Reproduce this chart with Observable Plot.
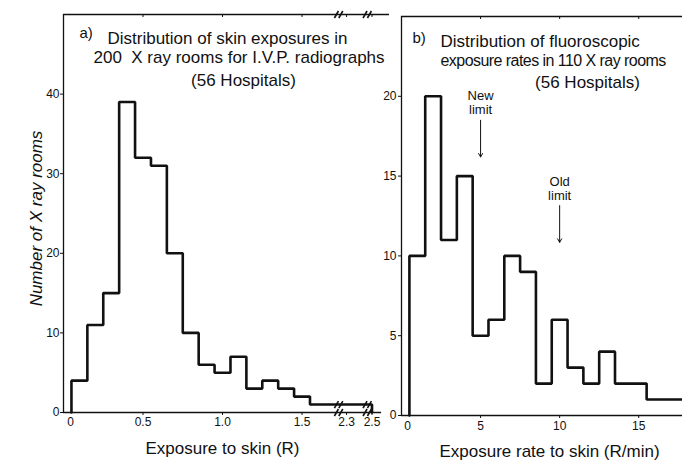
<!DOCTYPE html>
<html><head><meta charset="utf-8">
<script src="https://cdn.jsdelivr.net/npm/d3@7"></script>
<script src="https://cdn.jsdelivr.net/npm/@observablehq/plot@0.6"></script>
<style>
html,body{margin:0;padding:0;background:#fff;overflow:hidden;}
#wrap{position:relative;width:682px;height:460px;overflow:hidden;background:#fff;}
#wrap svg{position:absolute;top:0;}
</style></head><body><div id="wrap"></div>
<script>
const FONT = "'Liberation Sans', Arial, sans-serif";

// ---------- Panel a: skin exposures for I.V.P. radiographs ----------
const aTitle = ["Distribution of skin exposures in", "200  X ray rooms for I.V.P. radiographs", "(56 Hospitals)"];
const aBinCenters = [0.1,0.2,0.3,0.4,0.5,0.6,0.7,0.8,0.9,1.0,1.1,1.2,1.3,1.4,1.5];
const aCounts     = [4, 11, 15, 39, 32, 31, 20, 10, 6, 5, 7, 3, 4, 3, 2];
const aBinWidth = 0.1;
const aTailCount = 1;      // long tail drawn at one room up to 2.5 R
const aTailEnd = 2.5;
const aXTicks = [0, 0.5, 1.0, 1.5, 2.3, 2.5];
const aXTickLabels = ["0", "0.5", "1.0", "1.5", "2.3", "2.5"];
const aYTicks = [0, 10, 20, 30, 40];
// broken x axis: visible pieces of the real axis and their shift
const aSegments = [{lo: 0, hi: 1.72, shift: 0}, {lo: 2.26, hi: 2.42, shift: -0.52}, {lo: 2.48, hi: 2.6, shift: -0.56}];

// ---------- Panel b: fluoroscopic exposure rates ----------
const bTitle = ["Distribution of fluoroscopic", "exposure rates in 110 X ray rooms", "(56 Hospitals)"];
const bBinCenters = [1,2,3,4,5,6,7,8,9,10,11,12,13,14,15,16,17,18];
const bCounts     = [10,20,11,15,5,6,10,9,2,6,3,2,4,2,2,1,1,1];
const bBinWidth = 1;
const bXTicks = [0, 5, 10, 15];
const bYTicks = [0, 5, 10, 15, 20];
const bLimits = [
  {label: "New\nlimit", x: 5, textY: 18.9, from: 18.5, to: 16.2},
  {label: "Old\nlimit", x: 10, textY: 13.5, from: 13.15, to: 10.85}
];

// ---------- helpers ----------
function aDisp(r) {
  for (let i = 0; i < aSegments.length; i++) {
    const s = aSegments[i];
    if (r <= s.hi) return Math.max(r, s.lo) + s.shift;
  }
  const s = aSegments[aSegments.length - 1];
  return r + s.shift;
}
function outline(centers, counts, w) {
  const pts = [{x: centers[0] - w / 2, y: 0}];
  centers.forEach((c, i) => {
    pts.push({x: c - w / 2, y: counts[i]}, {x: c + w / 2, y: counts[i]});
  });
  return pts;
}

const aLine = outline(aBinCenters, aCounts, aBinWidth);
const aLast = aBinCenters[aBinCenters.length - 1] + aBinWidth / 2;
aLine.push({x: aLast, y: aTailCount}, {x: aTailEnd, y: aTailCount}, {x: aTailEnd, y: 0});
aLine.forEach(p => p.x = aDisp(p.x));

const aBreaks = aSegments.slice(1).map((s, i) => (aSegments[i].hi + aSegments[i].shift + s.lo + s.shift) / 2);
const aTickDisp = aXTicks.map(aDisp);
const aLabelMap = new Map(aTickDisp.map((d, i) => [d, aXTickLabels[i]]));

const bLine = outline(bBinCenters, bCounts, bBinWidth);
bLine.push({x: bBinCenters[bBinCenters.length - 1] + bBinWidth / 2, y: 0});

const ink = "#111";
const wrap = document.getElementById("wrap");

// ---------- left plot ----------
const aW = 400, aH = 460, aML = 63, aMR = 11, aMT = 14, aMB = 48;
const aXMax = 2.05, aYMax = 50;
const pxX = aXMax / (aW - aML - aMR), pxY = aYMax / (aH - aMT - aMB);
// "//" break symbols as short slanted strokes, on the axis, the histogram tail and the top frame
const aBreakStrokes = aBreaks.flatMap(b => [0, aTailCount, aYMax].flatMap(level =>
  [-2.2, 2.2].map(off => ({
    x1: b + (off - 2) * pxX, y1: level - 3.5 * pxY,
    x2: b + (off + 2) * pxX, y2: level + 3.5 * pxY
  }))));

const aPlot = Plot.plot({
  width: aW, height: aH,
  marginLeft: aML, marginRight: aMR, marginTop: aMT, marginBottom: aMB,
  x: {domain: [0, aXMax], axis: null},
  y: {domain: [0, aYMax], axis: null},
  style: {fontFamily: FONT, background: "transparent", overflow: "visible", color: ink},
  marks: [
    Plot.ruleX([0], {stroke: ink, strokeWidth: 1.3}),
    Plot.ruleY([0], {x1: () => 0, x2: () => aDisp(2.56), stroke: ink, strokeWidth: 1.3}),
    Plot.ruleY([aYMax], {stroke: ink, strokeWidth: 1.3}),
    Plot.ruleX(aTickDisp.slice(1), {x: d => d, insetBottom: aH - aMT - aMB - 3, stroke: ink}),
    Plot.axisY({ticks: aYTicks, label: null, tickSize: 3, tickPadding: 1, fontSize: 12, stroke: ink, fill: ink}),
    Plot.axisX({ticks: aTickDisp.slice(1), label: null, tickFormat: d => aLabelMap.get(d), tickSize: 3, tickPadding: 2, fontSize: 12, stroke: ink, fill: ink}),
    Plot.axisX({ticks: aTickDisp.slice(0, 1), label: null, tickFormat: d => aLabelMap.get(d), tickSize: 0, tickPadding: 5, dx: 7, fontSize: 12, fill: ink}),
    Plot.line(aLine, {x: "x", y: "y", stroke: ink, strokeWidth: 2.6, strokeLinejoin: "miter"}),
    Plot.link(aBreakStrokes, {x1: "x1", y1: "y1", x2: "x2", y2: "y2", stroke: ink, strokeWidth: 1.6}),
    Plot.text(["a)"], {frameAnchor: "top-left", dx: 16, dy: 23, lineAnchor: "bottom", textAnchor: "start", fontSize: 15, fill: ink}),
    Plot.text([aTitle[0]], {frameAnchor: "top-left", dx: 44, dy: 29, lineAnchor: "bottom", textAnchor: "start", fontSize: 17, fill: ink}),
    Plot.text([aTitle[1]], {frameAnchor: "top-left", dx: 30, dy: 48, lineAnchor: "bottom", textAnchor: "start", fontSize: 17, fill: ink}),
    Plot.text([aTitle[2]], {frameAnchor: "top-left", dx: 180, dy: 71, lineAnchor: "bottom", textAnchor: "middle", fontSize: 17, fill: ink}),
    Plot.text(["Number of X ray rooms"], {frameAnchor: "left", rotate: -90, dx: -27, dy: 5, fontStyle: "italic", fontSize: 17, textAnchor: "middle", fill: ink}),
    Plot.text(["Exposure to skin (R)"], {frameAnchor: "bottom-left", dx: 159, dy: 41, lineAnchor: "bottom", textAnchor: "middle", fontSize: 17, fill: ink})
  ]
});
aPlot.style.left = "0px";
wrap.appendChild(aPlot);

// ---------- right plot ----------
const bH = 460, bMT = 16, bMB = 45;
const bPlot = Plot.plot({
  width: 420, height: bH,
  marginLeft: 61, marginRight: 0, marginTop: bMT, marginBottom: bMB,
  x: {domain: [0, 22.7], axis: null},
  y: {domain: [0, 25], axis: null},
  style: {fontFamily: FONT, background: "transparent", overflow: "visible", color: ink},
  marks: [
    Plot.ruleX([0], {stroke: ink, strokeWidth: 1.3}),
    Plot.ruleY([0], {stroke: ink, strokeWidth: 1.3}),
    Plot.ruleY([25], {stroke: ink, strokeWidth: 1.3}),
    Plot.ruleX(bXTicks.slice(1), {x: d => d, insetBottom: bH - bMT - bMB - 3, stroke: ink}),
    Plot.axisY({ticks: bYTicks, label: null, tickSize: 3, tickPadding: 2, fontSize: 12, stroke: ink, fill: ink}),
    Plot.axisX({ticks: bXTicks.slice(1), label: null, tickSize: 3, tickPadding: 3, fontSize: 12, stroke: ink, fill: ink}),
    Plot.axisX({ticks: bXTicks.slice(0, 1), label: null, tickSize: 0, tickPadding: 6, dx: 6, fontSize: 12, fill: ink}),
    Plot.line(bLine, {x: "x", y: "y", stroke: ink, strokeWidth: 2.6, strokeLinejoin: "miter"}),
    Plot.arrow(bLimits, {x1: "x", x2: "x", y1: "from", y2: "to", stroke: ink, strokeWidth: 1, headLength: 6}),
    Plot.text(bLimits, {x: "x", y: "textY", text: "label", lineAnchor: "bottom", lineHeight: 1.1, fontSize: 13, fill: ink}),
    Plot.text(["b)"], {frameAnchor: "top-left", dx: 11, dy: 26, lineAnchor: "bottom", textAnchor: "start", fontSize: 15, fill: ink}),
    Plot.text([bTitle[0]], {frameAnchor: "top-left", dx: 39, dy: 30, lineAnchor: "bottom", textAnchor: "start", fontSize: 17, fill: ink}),
    Plot.text([bTitle[1]], {frameAnchor: "top-left", dx: 39, dy: 49, lineAnchor: "bottom", textAnchor: "start", fontSize: 16, fill: ink}),
    Plot.text([bTitle[2]], {frameAnchor: "top-left", dx: 186, dy: 71, lineAnchor: "bottom", textAnchor: "middle", fontSize: 17, fill: ink}),
    Plot.text(["Exposure rate to skin (R/min)"], {frameAnchor: "bottom-left", dx: 148, dy: 41, lineAnchor: "bottom", textAnchor: "middle", fontSize: 17, fill: ink})
  ]
});
bPlot.style.left = "340px";
wrap.appendChild(bPlot);
// tighten the letter spacing of the long second title line so it fits inside the page
d3.select(bPlot).selectAll("text").filter(function () { return this.textContent === bTitle[1]; })
  .attr("letter-spacing", "-0.55");
</script>
</body></html>
